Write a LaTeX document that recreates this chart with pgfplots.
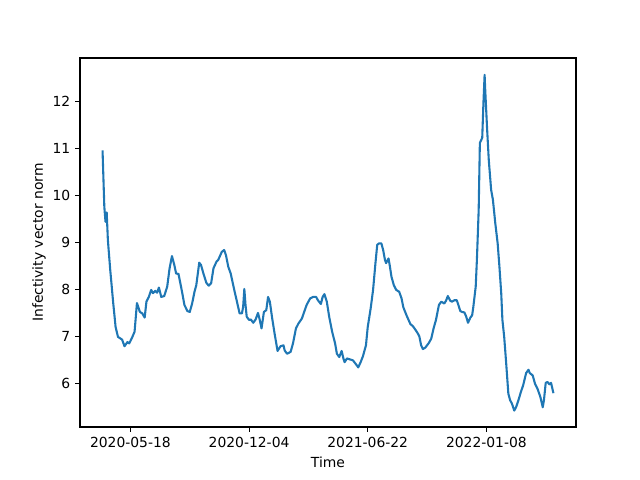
\documentclass[border=0pt]{standalone}
\usepackage{fontspec}
\setmainfont{DejaVu Sans}
\usepackage{pgfplots}
\pgfplotsset{compat=1.18}
\definecolor{mplblue}{HTML}{1F77B4}
\begin{document}
\begin{tikzpicture}
\path[use as bounding box] (-57.6pt,-38.16pt) rectangle (403.2pt,307.44pt);
\begin{axis}[
  at={(0,0)}, anchor=south west,
  scale only axis, width=357.1pt, height=265.7pt,
  xmin=-85, xmax=751, ymin=5.07, ymax=12.93,
  xtick={0,200,400,600},
  xticklabels={2020-05-18,2020-12-04,2021-06-22,2022-01-08},
  ytick={6,7,8,9,10,11,12},
  /pgf/number format/assume math mode=true,
  tick align=outside, tick pos=left,
  major tick length=3.5pt,
  every tick/.style={line width=0.8pt, black},
  axis line style={line width=0.8pt},
  tick label style={font=\fontsize{10}{12}\selectfont},
  label style={font=\fontsize{10}{12}\selectfont},
  xlabel={Time}, ylabel={Infectivity vector norm},
  xlabel style={yshift=0pt},
  ylabel style={yshift=-2pt},
]
\addplot[mplblue, line width=1.5pt, line join=round] table {
x y
-47 10.96
-44 9.76
-42 9.44
-40 9.64
-38 9.05
-34 8.41
-29 7.71
-25 7.20
-21 6.99
-14 6.93
-10 6.79
-5 6.88
-2 6.85
3 6.98
7 7.10
11 7.71
16 7.52
20 7.49
24 7.40
27 7.74
31 7.84
35 7.99
38 7.92
42 7.97
45 7.93
48 8.04
52 7.84
57 7.86
62 8.06
66 8.45
70 8.71
74 8.52
77 8.34
81 8.33
87 7.95
91 7.67
96 7.54
100 7.52
104 7.70
108 7.95
111 8.09
116 8.57
119 8.52
123 8.34
128 8.14
132 8.08
136 8.13
140 8.45
145 8.59
148 8.63
154 8.80
158 8.84
161 8.73
165 8.48
169 8.34
175 7.99
179 7.77
184 7.49
188 7.49
190 7.63
192 8.01
194 7.67
196 7.42
200 7.35
203 7.36
207 7.29
211 7.36
215 7.50
218 7.35
221 7.17
225 7.52
229 7.56
232 7.84
235 7.74
239 7.38
243 7.06
248 6.69
253 6.79
258 6.81
260 6.70
264 6.63
270 6.67
274 6.85
279 7.17
283 7.27
289 7.38
292 7.49
297 7.67
303 7.81
308 7.84
313 7.84
316 7.77
321 7.69
324 7.84
327 7.90
331 7.74
335 7.42
340 7.10
345 6.85
348 6.63
352 6.56
356 6.69
359 6.53
361 6.45
365 6.53
370 6.51
375 6.49
380 6.41
384 6.34
388 6.45
392 6.58
397 6.81
400 7.20
405 7.60
409 7.99
413 8.56
416 8.95
419 8.98
423 8.98
426 8.84
429 8.63
431 8.56
435 8.66
437 8.52
440 8.27
444 8.09
448 7.99
453 7.95
457 7.81
460 7.62
466 7.43
472 7.26
476 7.22
481 7.13
485 7.05
487 7.00
490 6.81
493 6.73
497 6.76
503 6.86
507 6.95
511 7.17
515 7.35
520 7.67
524 7.74
529 7.70
532 7.76
535 7.86
539 7.76
542 7.74
546 7.77
550 7.77
552 7.70
556 7.54
559 7.52
563 7.51
566 7.42
569 7.29
573 7.40
576 7.45
578 7.63
582 8.06
584 8.63
587 9.69
589 11.12
593 11.23
595 11.97
597 12.57
598 12.26
601 11.47
604 10.76
608 10.12
611 9.91
615 9.41
619 8.98
622 8.48
625 7.92
627 7.35
630 6.99
633 6.49
637 5.78
640 5.64
643 5.57
647 5.42
650 5.49
654 5.64
658 5.81
662 5.96
667 6.22
671 6.29
673 6.22
678 6.17
682 5.99
686 5.89
691 5.71
695 5.49
697 5.64
700 6.01
703 6.03
706 5.98
709 6.01
713 5.79
};
\end{axis}
\end{tikzpicture}
\end{document}
